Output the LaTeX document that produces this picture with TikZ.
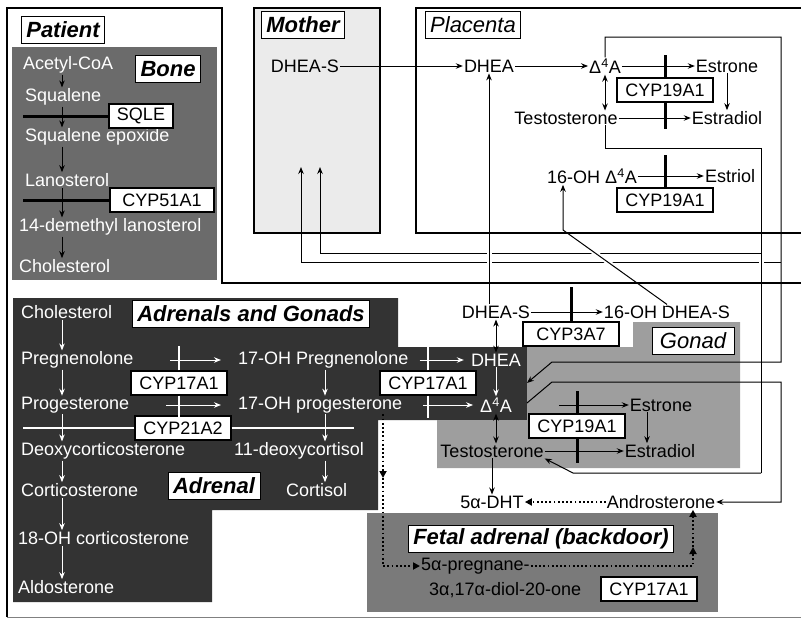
\documentclass[tikz,border=0pt]{standalone}
\usepackage{fontspec}
\setmainfont{Liberation Sans}
\usepackage{tikz}
\usetikzlibrary{arrows.meta,positioning,calc}
\usepackage{xcolor}
\definecolor{BoneGrey}{gray}{0.42}
\definecolor{AdrDark}{gray}{0.2}
\definecolor{GonGrey}{gray}{0.62}
\definecolor{BackGrey}{gray}{0.48}
\definecolor{MumSoft}{gray}{0.92}
\newcommand{\mainsz}{\fontsize{18}{20}\selectfont}
\newcommand{\tagsz}{\fontsize{22}{24}\selectfont}
\newcommand{\dfa}{Δ\textsuperscript{4}A}

\begin{document}
\begin{tikzpicture}[x=1pt, y=-1pt,
    txt/.style={inner sep=1pt, font=\mainsz},
    wtxt/.style={txt, text=white},
    cypbox/.style={draw, fill=white, line width=1.1pt, inner xsep=8pt, inner ysep=2pt, minimum width=96pt, minimum height=24pt, font=\mainsz},
    tagbox/.style={draw, fill=white, line width=0.8pt, inner xsep=5pt, inner ysep=2pt, minimum height=27pt, font=\tagsz\bfseries\itshape},
    tagboxi/.style={tagbox, font=\tagsz\itshape},
    conn/.style={line width=1pt},
    arr/.style={conn, -{Stealth[length=7pt,width=5.5pt]}},
    dbl/.style={conn, {Stealth[length=7pt,width=5.5pt]}-{Stealth[length=7pt,width=5.5pt]}},
    warr/.style={arr, white},
    ibar/.style={line width=3pt},
    wbar/.style={line width=2.5pt, white},
    wline/.style={line width=1.3pt, white},
    dotline/.style={line width=1.8pt, dash pattern=on 1.8pt off 2.4pt},
    dotarr/.style={dotline, -{Triangle[length=7pt,width=7pt]}},
    halo/.style={preaction={draw, white, line width=5pt, -}},
    hop/.style={shorten <=36pt, shorten >=16pt},
    wall/.style={line width=2.4pt}]
  \useasboundingbox (0,0) rectangle (801,621);

  % shaded regions and frames
  \fill[BoneGrey] (12,47) rectangle (217,280);
  \fill[AdrDark] (13,298) -- (398,298) -- (398,347) -- (527,347) -- (527,420) -- (378,420)
    -- (378,510) -- (212,510) -- (212,602) -- (13,602) -- cycle;
  \fill[GonGrey] (633,322) -- (740,322) -- (740,468) -- (437,468) -- (437,420) -- (527,420)
    -- (527,347) -- (633,347) -- cycle;
  \fill[BackGrey] (367,513) rectangle (718,612);
  \draw[wall, fill=MumSoft] (254,8) rectangle (380,233);
  \draw[wall] (801,8) -- (416,8) -- (416,233) -- (801,233);
  \draw[line width=2pt] (801,283) -- (222,283) -- (222,8) -- (7,8) -- (7,617);
  \draw[gray, line width=1pt] (7,617) -- (801,617);

  % bone
  \node[tagbox] (patient) at (63,30) {Patient};
  \node[tagbox] (bone) at (168,69) {Bone};
  \node[wtxt, anchor=west] (acoa) at (22,65) {Acetyl-CoA};
  \node[wtxt, anchor=west] (squal) at (24,97) {Squalene};
  \node[wtxt, anchor=west] (sqep) at (24,137) {Squalene epoxide};
  \node[wtxt, anchor=west] (lano) at (24,180) {Lanosterol};
  \node[wtxt, anchor=west] (dml) at (18,227) {14-demethyl lanosterol};
  \node[wtxt, anchor=west] (bchol) at (18,266) {Cholesterol};
  \node[cypbox, minimum width=62pt] (sqle) at (141,116) {SQLE};
  \node[cypbox, minimum width=104pt] (cyp51) at (162,200) {CYP51A1};
  \coordinate (bx) at (62,0);
  \coordinate (bl) at (23,0);

  % mother and placenta
  \node[tagbox] (mother) at (303,25) {Mother};
  \node[txt] (mDHEAS) at (305,66) {DHEA-S};
  \node[tagboxi] (placenta) at (473,25) {Placenta};
  \node[txt] (pDHEA) at (489,66) {DHEA};
  \node[txt] (pD4A) at (605,66) {\dfa};
  \node[txt] (pE1) at (727,66) {Estrone};
  \node[cypbox] (pCyp1) at (665,90) {CYP19A1};
  \node[txt] (pT) at (566,118) {Testosterone};
  \node[txt] (pE2) at (727,118) {Estradiol};
  \node[txt] (p16) at (592,176) {16-OH \dfa};
  \node[txt] (pE3) at (730,176) {Estriol};
  \node[cypbox] (pCyp2) at (665,200) {CYP19A1};

  % fetal top row
  \node[txt] (fDHEAS) at (496,312) {DHEA-S};
  \node[txt] (f16) at (667,312) {16-OH DHEA-S};
  \node[cypbox] (cyp3a7) at (571,334) {CYP3A7};
  \node[tagboxi, minimum width=82pt] (gonad) at (693,341) {Gonad};

  % adrenals and gonads
  \node[wtxt, anchor=west] (aChol) at (20,312) {Cholesterol};
  \node[tagbox] (adrgon) at (251,314) {Adrenals and Gonads};
  \node[wtxt, anchor=west] (preg) at (20,360) {Pregnenolone};
  \node[wtxt, anchor=west] (ohpreg) at (237,360) {17-OH Pregnenolone};
  \node[wtxt] (aDHEA) at (496,360) {DHEA};
  \node[cypbox] (cyp17a) at (179,383) {CYP17A1};
  \node[cypbox] (cyp17b) at (428,383) {CYP17A1};
  \node[wtxt, anchor=west] (prog) at (20,405) {Progesterone};
  \node[wtxt, anchor=west] (ohprog) at (237,405) {17-OH progesterone};
  \node[wtxt] (d4a) at (496,405) {\dfa};
  \node[cypbox] (cyp21) at (183,428) {CYP21A2};
  \node[wtxt, anchor=west] (doc) at (20,451) {Deoxycorticosterone};
  \node[wtxt, anchor=west] (deoxc) at (233,451) {11-deoxycortisol};
  \node[wtxt, anchor=west] (cortico) at (20,490) {Corticosterone};
  \node[tagbox] (adrenal) at (214,486) {Adrenal};
  \node[wtxt, anchor=west] (cortisol) at (285,490) {Cortisol};
  \node[wtxt, anchor=west] (ohcort) at (17,538) {18-OH corticosterone};
  \node[wtxt, anchor=west] (aldo) at (17,587) {Aldosterone};
  \coordinate (ax) at (62,0);
  \coordinate (ax2) at (325,0);

  % gonad
  \node[txt] (gE1) at (661,405) {Estrone};
  \node[cypbox] (cyp19g) at (577,426) {CYP19A1};
  \node[txt] (gT) at (492,451) {Testosterone};
  \node[txt] (gE2) at (660,451) {Estradiol};
  \node[txt] (dht) at (492,502) {5α-DHT};
  \node[txt] (andro) at (661,502) {Androsterone};

  % backdoor
  \node[tagbox] (backdoor) at (541,539) {Fetal adrenal (backdoor)};
  \node[txt, anchor=west] (preg5a) at (420,566) {5α-pregnane-};
  \node[txt, anchor=west] (preg5b) at (428,590) {3α,17α-diol-20-one};
  \node[cypbox] (cyp17c) at (649,589) {CYP17A1};

  % route corners
  \coordinate (rA1) at (781,37);
  \coordinate (rA2) at (781,362);
  \coordinate (rA3) at (552,362);
  \coordinate (rB1) at (761,148);
  \coordinate (rB2) at (761,473);
  \coordinate (rB3) at (573,473);
  \coordinate (rC1) at (552,382);
  \coordinate (rC2) at (781,382);
  \coordinate (rC3) at (781,502);
  \coordinate (mJ1) at (781,262);
  \coordinate (mJ2) at (761,253);
  \coordinate (mIn1) at (301,167);
  \coordinate (mIn2) at (320,167);
  \coordinate (k16) at (563,230);
  \coordinate (bdA) at (383,478);
  \coordinate (bdB) at (383,566);
  \coordinate (bdC) at (693,547);

  % bone pathway
  \draw[arr] (acoa.south -| bx) -- (squal.north -| bx);
  \draw[arr] (squal.south -| bx) -- (sqep.north -| bx);
  \draw[arr] (sqep.south -| bx) -- (lano.north -| bx);
  \draw[arr] (lano.south -| bx) -- (dml.north -| bx);
  \draw[arr] (dml.south -| bx) -- (bchol.north -| bx);
  \draw[ibar] (sqle.west) -- (sqle.west -| bl);
  \draw[ibar] (cyp51.west) -- (cyp51.west -| bl);

  % placenta
  \draw[arr] (mDHEAS) -- (pDHEA);
  \draw[arr] (pDHEA) -- (pD4A);
  \draw[arr] (pD4A) -- (pE1);
  \draw[arr] (pT) -- (pE2);
  \draw[dbl] (pD4A.south) -- (pD4A.south |- pT.north);
  \draw[arr] (pE1) -- (pE2);
  \draw[arr] (p16) -- (pE3);
  \draw[ibar] (pCyp1.north) -- ++(0,-22);
  \draw[ibar] (pCyp1.south) -- ++(0,26);
  \draw[ibar] (pCyp2.north) -- ++(0,-32);

  % adrenal steroids
  \draw[warr] (aChol.south -| ax) -- (preg.north -| ax);
  \draw[warr] (preg.south -| ax) -- (prog.north -| ax);
  \draw[warr] (prog.south -| ax) -- (doc.north -| ax);
  \draw[warr] (doc.south -| ax) -- (cortico.north -| ax);
  \draw[warr] (cortico.south -| ax) -- (ohcort.north -| ax);
  \draw[warr] (ohcort.south -| ax) -- (aldo.north -| ax);
  \draw[warr] (ohpreg.south -| ax2) -- (ohprog.north -| ax2);
  \draw[warr] (ohprog.south -| ax2) -- (deoxc.north -| ax2);
  \draw[warr] (deoxc.south -| ax2) -- (cortisol.north -| ax2);
  \draw[warr] (aDHEA) -- (d4a);
  \draw[warr, hop] (preg) -- (ohpreg);
  \draw[warr, hop] (prog) -- (ohprog);
  \draw[warr, shorten <=10pt, shorten >=6pt] (ohpreg) -- (aDHEA);
  \draw[warr, shorten <=20pt, shorten >=6pt] (ohprog) -- (d4a);
  \draw[wbar] (cyp17a.north) -- ++(0,-24);
  \draw[wbar] (cyp17a.south) -- ++(0,22);
  \draw[wbar] (cyp17b.north) -- ++(0,-24);
  \draw[wbar] (cyp17b.south) -- ++(0,22);
  \draw[wline] (cyp21.west) -- (cyp21.west -| bl);
  \draw[wline] (cyp21.east) -- ++(122,0);
  \draw[dbl] (fDHEAS) -- (aDHEA);
  \draw[arr] (fDHEAS) -- (f16);
  \draw[ibar] (cyp3a7.north) -- ++(0,-34);

  % gonad
  \draw[arr, shorten <=46pt] (d4a) -- (gE1);
  \draw[arr] (gT) -- (gE2);
  \draw[ibar] (cyp19g.north) -- ++(0,-22);
  \draw[ibar] (cyp19g.south) -- ++(0,24);
  \draw[arr] ([xshift=-14pt]gE1.south) -- ([xshift=-14pt]gE1.south |- gE2.north);
  \draw[dbl] (d4a.south) -- (d4a.south |- gT.north);
  \draw[arr] (gT.south) -- (gT.south |- dht.north);
  \draw[dotarr] (andro) -- (dht);

  % backdoor
  \draw[dotarr] (ohprog.south east -| bdA) -- (bdA);
  \draw[dotarr] (bdA) -- (bdB) -- (preg5a.west);
  \draw[dotarr] (preg5a.east) -| (bdC);
  \draw[dotarr] (bdC) -- (bdC |- andro.south);

  % crossing routes between compartments
  \draw[arr] (mJ1) -| (mIn1);
  \draw[conn, halo] (pD4A.south |- pT.south) |- (rB1) -- (rB2);
  \draw[arr] (rB2) -- (rB3) -- (gT.south east);
  \draw[arr] (mJ2) -| (mIn2);
  \draw[arr] (pD4A.north) |- (rA1) -- (rA2) -- (rA3) -- ($(d4a.east)+(14,-22)$);
  \draw[arr] ($(d4a.east)+(14,-2)$) -- (rC1) -- (rC2) -- (rC3) -- (andro.east);
  \draw[arr, halo] (fDHEAS.north -| pDHEA.south) -- (pDHEA.south);
  \draw[arr, halo] (f16.north) -- (k16) -- (k16 |- p16.south);

  % borders back on top
  \draw[wall] (801,8) -- (416,8) -- (416,233) -- (801,233);
  \draw[line width=2pt] (801,283) -- (222,283);
\end{tikzpicture}
\end{document}
